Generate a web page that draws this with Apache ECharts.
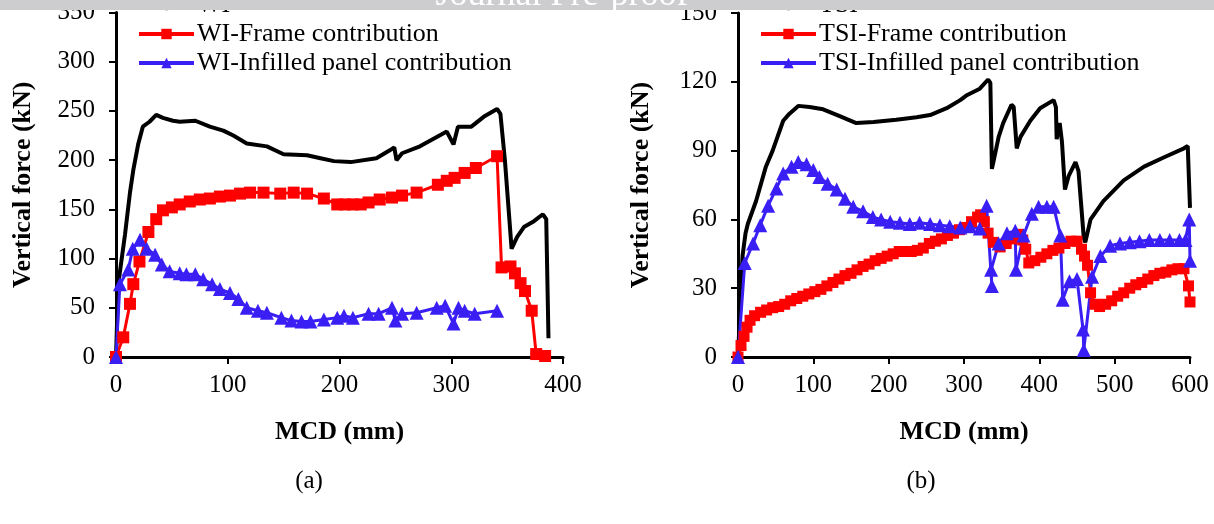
<!DOCTYPE html>
<html>
<head>
<meta charset="utf-8">
<script src="https://cdn.jsdelivr.net/npm/echarts@6/dist/echarts.min.js"></script>
<style>html,body{margin:0;padding:0;background:#fff}#c{width:1214px;height:524px}</style>
</head>
<body>
<div id="c"></div>
<script>
// ---- Chart (a): WI ----
const wiTotal = [[0,0],[2,74],[8,124],[12.5,167],[15.5,190],[20,217],[24,234],[30,239],[36,246],[42,243],[51,240],[57,239],[71,240],[84,234],[96,230],[105,225],[117,217],[135,214],[150,206],[171,205],[183,202],[195,199],[210,198],[233,202],[245,210],[249,213],[251,200],[256,207],[272,214],[296,229],[302,216],[306,234],[318,234],[329,244],[341,252],[344,247],[348,200],[354,110],[359,122],[365,132],[374,138],[382,145],[385,140],[387,19]];
const wiFrame = [[0,0],[6.5,20],[12.5,54],[15.5,74],[21,97],[29,127],[36,140],[42,149],[50,152],[57,155],[66,158],[75,160],[84,161],[93,163],[102,164],[111,166],[120,167],[132,167],[147,166],[159,167],[171,166],[186,161],[198,155],[205,155],[212,155],[219,155],[226,157],[236,160],[247,162],[256,164],[269,167],[288,175],[296,179],[303,182],[312,187],[322,192],[341,204],[345,91],[353,92],[357,85],[362,75],[366,67],[372,47],[376,3],[384,1]];
const wiPanel = [[0,0],[3.5,74],[11,89],[15,110],[21.5,119],[27.5,110],[35,104],[41,94],[48,87],[57,85],[63,84],[71,84],[78,79],[86,74],[93,69],[102,65],[109.5,59],[117,50],[127,47],[135,45],[148,40],[157,37],[166,36],[174,36],[186,38],[198,40],[204,42],[212,40],[226,44],[235,44],[247,50],[250,37],[256,44],[269,45],[287,50],[294.5,52],[302,34],[306.5,50],[312,47],[321,44],[341,47]];
// ---- Chart (b): TSI ----
const tsiTotal = [[0,0],[6,44],[10,54],[13,58],[24,68],[37,83],[46,90],[60,103],[68,106],[80,109.5],[95,109],[113,108],[135,105],[157,102],[180,102.5],[210,103.5],[237,104.5],[255,105.5],[277,108.5],[295,112],[303,114],[321,117],[332,121],[335,119.5],[337,82],[339,85],[346,96],[352,102],[363,110],[366,109],[370,91],[375,96],[388,103],[401,108.5],[419,112],[422,109],[423,95],[427,102],[430,94],[434,73],[439,79],[448,85],[452,81],[459,52],[461,50],[468,60],[485,68],[512,77],[539,83],[565,87],[592,91],[597,92],[600,65]];
const tsiFrame = [[0,0],[4,5],[8,9],[12,13],[16,16],[22,18],[30,19.5],[38,20.5],[46,21.5],[54,22],[62,23],[70,24.5],[78,25.5],[86,26.5],[94,27.5],[102,28.5],[110,29.5],[118,31],[126,32.5],[134,34],[142,35.5],[150,36.5],[158,38],[166,39.5],[174,40.5],[182,42],[190,43],[198,44],[206,45],[214,46],[222,46],[230,46],[238,46.5],[246,47.5],[254,49.5],[262,50.5],[270,51.5],[278,53],[286,54],[294,55.5],[302,56.5],[310,59],[318,61],[322,62],[327,59],[332,54],[339,50],[348,48],[356,49.5],[364,51.5],[372,53.5],[378,51],[382,47],[386,41],[394,42],[402,43.5],[410,45],[418,46.5],[426,47.5],[434,49.5],[442,50.5],[450,50.5],[456,47],[460,44],[464,40],[468,28],[474,23],[480,22],[488,23],[496,24.5],[504,26.5],[512,28],[520,30],[528,31.5],[536,32.5],[544,34],[552,35.5],[560,36.5],[568,37],[576,38],[584,38.5],[592,38.5],[598,31],[600,24]];
const tsiPanel = [[0,0],[9,41],[20,49.5],[29.5,57.5],[40,66],[51,73.5],[60,80],[71,83],[80,85],[91,84],[100,81.5],[108,78.5],[119,75.5],[131,73],[142,69],[153,65.5],[166,63.5],[179,61],[190,60],[202,59],[215,58.5],[228,58],[241,58.5],[255,58],[268,57.5],[281,57],[295,56.5],[308,57],[321,56],[330,66],[337,31],[336,38],[346,49.5],[357,54],[368,55],[369,38],[379,53],[390,62.5],[399,65.5],[410,65.5],[419,65.5],[428,53],[431,25],[440,33],[450,34],[458,12],[459,3],[470,35],[481,44],[494,48.5],[507,49.5],[520,50],[533,50.5],[546,51],[560,51],[573,51],[586,51],[594,51],[599,60],[600,42]];

const xTicksA = {min:0, max:400, interval:100};
const yTicksA = {min:0, max:350, interval:50};
const xTicksB = {min:0, max:600, interval:100};
const yTicksB = {min:0, max:150, interval:30};

const namesA = ['WI','WI-Frame contribution','WI-Infilled panel contribution'];
const namesB = ['TSI','TSI-Frame contribution','TSI-Infilled panel contribution'];

const FONT = 'Liberation Serif';
const BLACK = '#000000', RED = '#ff0000', BLUE = '#3a1ff5';

function xAxis(idx, t){
  return {type:'value', gridIndex:idx, min:t.min, max:t.max, interval:t.interval,
    name:'MCD (mm)', nameLocation:'middle', nameGap:62,
    nameTextStyle:{fontFamily:FONT, fontWeight:'bold', fontSize:26, color:'#000'},
    axisLine:{show:true, onZero:false, lineStyle:{color:'#000', width:3}},
    axisTick:{show:true, inside:false, length:7, lineStyle:{color:'#000', width:2}},
    axisLabel:{fontFamily:FONT, fontSize:25, color:'#000', margin:16},
    splitLine:{show:false}};
}
function yAxis(idx, t, gap){
  return {type:'value', gridIndex:idx, min:t.min, max:t.max, interval:t.interval,
    name:'Vertical force (kN)', nameLocation:'middle', nameGap:gap, nameRotate:90,
    nameTextStyle:{fontFamily:FONT, fontWeight:'bold', fontSize:26, color:'#000'},
    axisLine:{show:true, onZero:false, lineStyle:{color:'#000', width:3}},
    axisTick:{show:true, inside:false, length:7, lineStyle:{color:'#000', width:2}},
    axisLabel:{fontFamily:FONT, fontSize:25, color:'#000', margin:21},
    splitLine:{show:false}};
}
function lineSeries(name, data, idx, color, symbol, size, width){
  return {name:name, type:'line', xAxisIndex:idx, yAxisIndex:idx, data:data,
    symbol:symbol, symbolSize:size, showSymbol: symbol!=='none',
    lineStyle:{color:color, width:width}, itemStyle:{color:color},
    animation:false, clip:true};
}
function legend(names, left){
  return {data:names, orient:'vertical', left:left, top:-8, padding:0, itemGap:3,
    itemWidth:55, itemHeight:13,
    lineStyle:{width:4},
    textStyle:{fontFamily:FONT, fontSize:26, color:'#000', lineHeight:26, padding:[0,0,0,-2]}};
}

const chart = echarts.init(document.getElementById('c'), null, {renderer:'canvas'});
chart.setOption({
  backgroundColor:'#fff',
  animation:false,
  grid:[{left:116, top:8, width:447, height:349},{left:738, top:13, width:452, height:344}],
  xAxis:[xAxis(0,xTicksA), xAxis(1,xTicksB)],
  yAxis:[yAxis(0,yTicksA,80), yAxis(1,yTicksB,84)],
  legend:[legend(namesA,137), legend(namesB,759)],
  series:[
    lineSeries(namesA[0], wiTotal, 0, BLACK, 'none', 0, 4),
    lineSeries(namesA[1], wiFrame, 0, RED, 'rect', 12, 3),
    lineSeries(namesA[2], wiPanel, 0, BLUE, 'triangle', 14, 3),
    lineSeries(namesB[0], tsiTotal, 1, BLACK, 'none', 0, 4),
    lineSeries(namesB[1], tsiFrame, 1, RED, 'rect', 11, 3),
    lineSeries(namesB[2], tsiPanel, 1, BLUE, 'triangle', 14, 3)
  ],
  graphic:[
    {type:'rect', left:0, top:0, z:100, shape:{width:1214, height:10}, style:{fill:'#cdcdcf'}},
    {type:'text', z:101, x:562, y:14, style:{text:'Journal Pre-proof', fill:'#ffffff', font:'36px "Liberation Serif"', textAlign:'center', textVerticalAlign:'bottom'}},
    {type:'text', z:10, x:309, y:481, style:{text:'(a)', fill:'#000', font:'25px "Liberation Serif"', textAlign:'center', textVerticalAlign:'middle'}},
    {type:'text', z:10, x:921, y:481, style:{text:'(b)', fill:'#000', font:'25px "Liberation Serif"', textAlign:'center', textVerticalAlign:'middle'}}
  ]
});
</script>
</body>
</html>
